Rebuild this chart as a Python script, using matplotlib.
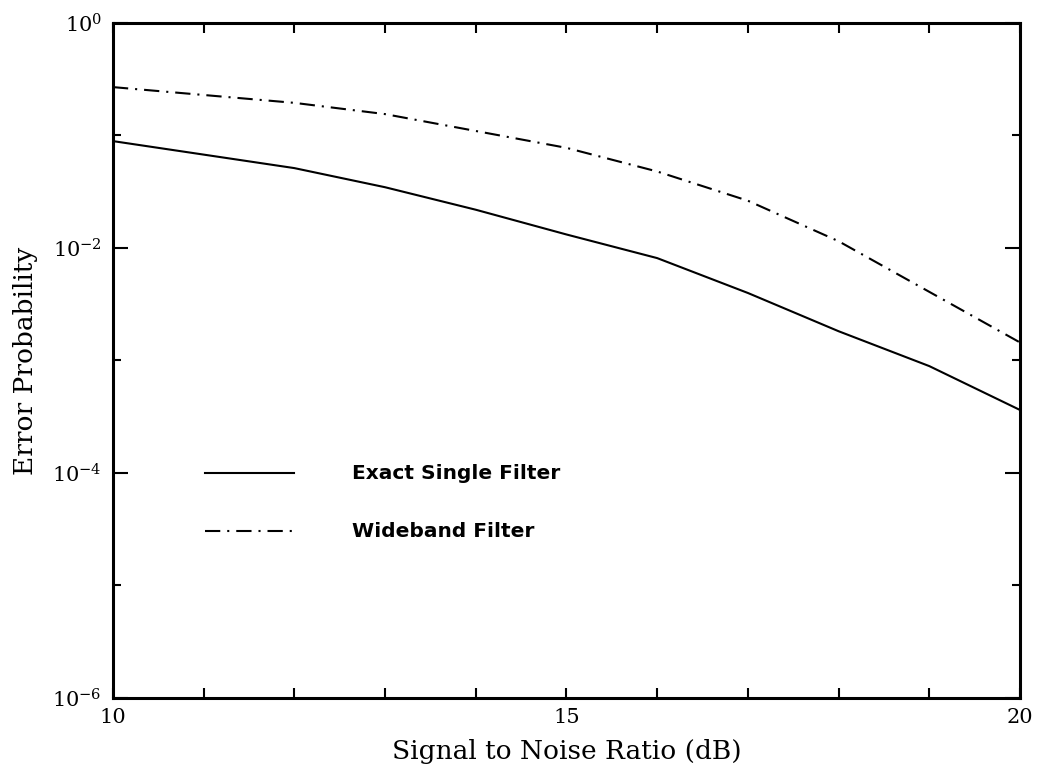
import matplotlib
matplotlib.use("Agg")
import matplotlib.pyplot as plt
from matplotlib.ticker import FixedLocator, NullFormatter, FixedFormatter

plt.rcParams['mathtext.fontset'] = 'dejavuserif'
plt.rcParams['lines.scale_dashes'] = False

# Signal-to-noise ratio (dB)
snr_db = [10, 11, 12, 13, 14, 15, 16, 17, 18, 19, 20]

# Error probability curves (log10 values)
exact_single_log = [-1.05, -1.17, -1.29, -1.46, -1.66, -1.88, -2.09, -2.40, -2.74, -3.05, -3.44]
wideband_log = [-0.57, -0.64, -0.71, -0.81, -0.96, -1.11, -1.32, -1.58, -1.94, -2.39, -2.84]

exact_single = [10 ** v for v in exact_single_log]
wideband = [10 ** v for v in wideband_log]

series_labels = ["Exact Single Filter", "Wideband Filter"]
x_tick_labels = {10: "10", 15: "15", 20: "20"}
y_tick_labels = {0: r"$10^{0}$", -2: r"$10^{-2}$", -4: r"$10^{-4}$", -6: r"$10^{-6}$"}

dashdot = (0, (11, 5, 1.5, 5))

fig = plt.figure(figsize=(10.42, 7.79), dpi=100)
ax = fig.add_axes([0.1084, 0.104, 0.8705, 0.8665])

ax.plot(snr_db, exact_single, color="black", lw=1.5, solid_joinstyle="round")
ax.plot(snr_db, wideband, color="black", lw=1.5, linestyle=dashdot)

ax.set_yscale("log")
ax.set_xlim(10, 20)
ax.set_ylim(1e-6, 1)

for s in ax.spines.values():
    s.set_linewidth(2.2)

# x ticks at every dB, labels only at 10, 15, 20
ax.xaxis.set_major_locator(FixedLocator(list(range(10, 21))))
ax.xaxis.set_major_formatter(FixedFormatter([x_tick_labels.get(v, "") for v in range(10, 21)]))
ax.xaxis.set_minor_locator(FixedLocator([]))
ax.tick_params(axis="x", which="major", direction="in", length=7.5, width=1.5,
               top=True, bottom=True, labelsize=15, pad=7)

# y ticks: labelled every other decade, short ticks on odd decades
ax.yaxis.set_major_locator(FixedLocator([10.0 ** k for k in (0, -2, -4, -6)]))
ax.yaxis.set_major_formatter(FixedFormatter([y_tick_labels[k] for k in (0, -2, -4, -6)]))
ax.yaxis.set_minor_locator(FixedLocator([10.0 ** k for k in (-1, -3, -5)]))
ax.yaxis.set_minor_formatter(NullFormatter())
ax.tick_params(axis="y", which="major", direction="in", length=11, width=1.5,
               left=True, right=True, labelsize=15, pad=8)
ax.tick_params(axis="y", which="minor", direction="in", length=6, width=1.5,
               left=True, right=True)

for lbl in ax.get_xticklabels() + ax.get_yticklabels():
    lbl.set_family("DejaVu Serif")

ax.set_xlabel("Signal to Noise Ratio (dB)", family="DejaVu Serif", fontsize=19, labelpad=9)
ax.set_ylabel("Error Probability", family="DejaVu Serif", fontsize=19, labelpad=10)

# In-plot key
key_y = [0.333, 0.247]
key_styles = ["-", dashdot]
for y, ls, label in zip(key_y, key_styles, series_labels):
    ax.plot([0.101, 0.200], [y, y], transform=ax.transAxes, color="black", lw=1.5, linestyle=ls)
    ax.text(0.264, y, label, transform=ax.transAxes, va="center", ha="left",
            family="DejaVu Sans", fontweight="semibold", fontsize=14.5)

fig.savefig("out.png", dpi=100)
